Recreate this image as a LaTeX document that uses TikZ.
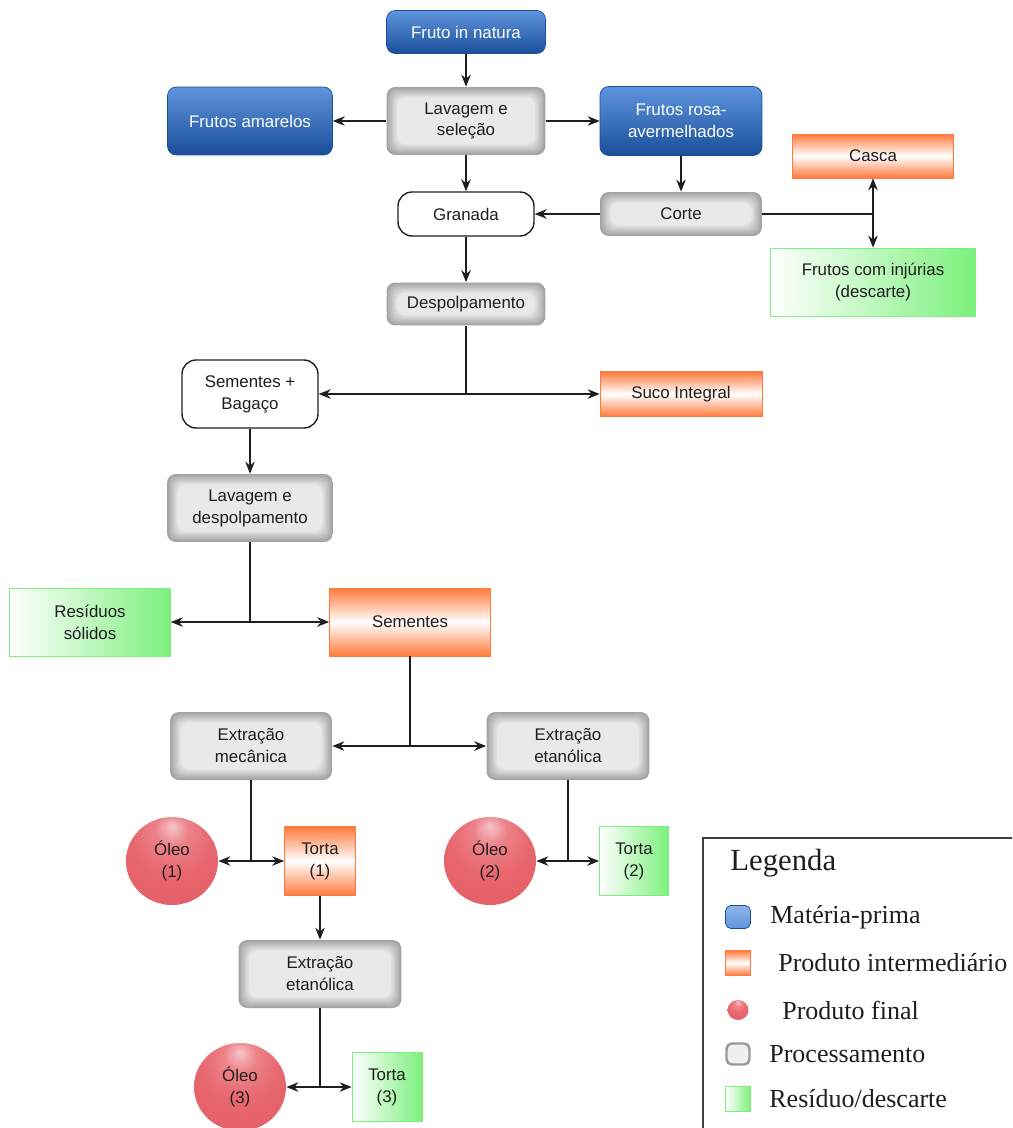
\documentclass[tikz,border=0pt]{standalone}
\usepackage{fontspec}
\setmainfont{Liberation Sans}
\newfontfamily\legfont{Liberation Serif}
\usepackage{tikz}
\usetikzlibrary{arrows.meta,positioning,shapes.geometric}
\definecolor{fluxblue}{HTML}{5F95DD}
\definecolor{fluxnavy}{HTML}{1A4E9A}
\definecolor{fluxorange}{HTML}{FF7A3C}
\definecolor{fluxgreen}{HTML}{7CF07C}
\definecolor{oleolight}{HTML}{F6C4C8}
\definecolor{oleomid}{HTML}{E8666E}
\definecolor{oleodark}{HTML}{D24452}
\definecolor{fluxdark}{HTML}{1E1E1E}
\pgfdeclareradialshading{oleoball}{\pgfpoint{0bp}{20bp}}{color(0bp)=(oleolight); color(9bp)=(oleomid!70!oleolight); color(22bp)=(oleomid); color(50bp)=(oleomid!70!oleodark); color(70bp)=(oleodark)}
\tikzset{
  box/.style={align=center,inner sep=2pt,font=\fontsize{9.6}{12.5}\selectfont,minimum width=3.18cm,minimum height=1.36cm,text=fluxdark},
  raw/.style={box,rounded corners=5pt,top color=fluxblue,bottom color=fluxnavy,draw=fluxnavy,text=white},
  proc/.style={box,rounded corners=5pt,path picture={
      \foreach \k [evaluate=\k as \gv using 36-3.4*\k] in {0,...,8}
        \fill[black!\gv,rounded corners=5pt] ([shift={(\k*0.75pt,\k*0.75pt)}]path picture bounding box.south west)
          rectangle ([shift={(-\k*0.75pt,-\k*0.75pt)}]path picture bounding box.north east);}},
  inter/.style={box,top color=fluxorange,bottom color=fluxorange,middle color=white,draw=fluxorange},
  resid/.style={box,left color=white,right color=fluxgreen,draw=fluxgreen},
  plain/.style={box,rounded corners=8pt,draw=fluxdark,fill=white,thick},
  final/.style={box,ellipse,inner sep=0pt,minimum width=1.84cm,minimum height=1.76cm,shading=oleoball},
  ar/.style={-{Stealth[length=2.4mm,width=1.9mm]},draw=fluxdark,line width=0.9pt},
  ln/.style={draw=fluxdark,line width=0.9pt},
  legtxt/.style={anchor=west,inner sep=0pt,font=\legfont\fontsize{14.8}{16}\selectfont,text=fluxdark},
}

\begin{document}
\begin{tikzpicture}[x=0.02cm,y=-0.02cm]
  \useasboundingbox (0,0) rectangle (1012,1128);
  \clip (0,0) rectangle (1012,1128);
  % selection
  \node[raw,minimum height=0.86cm] (fruto) at (466,32) {Fruto in natura};
  \node[proc] (lav) at (466,121) {Lavagem e\\seleção};
  \node[raw,minimum width=3.3cm] (amar) at (250,121) {Frutos amarelos};
  \node[raw,minimum width=3.24cm,minimum height=1.38cm] (rosa) at (681,121) {Frutos rosa-\\avermelhados};
  \node[plain,minimum width=2.72cm,minimum height=0.88cm] (gran) at (466,214) {Granada};
  \node[proc,minimum width=3.24cm,minimum height=0.88cm] (corte) at (681,214) {Corte};
  \node[inter,minimum width=3.22cm,minimum height=0.88cm] (casca) at (873,156) {Casca};
  \node[resid,minimum width=4.1cm] (inj) at (873,282) {Frutos com injúrias\\(descarte)};
  \node[proc,minimum height=0.86cm] (desp) at (466,304) {Despolpamento};
  \draw[ar] (fruto) -- (lav);
  \draw[ar] (lav) -- (amar);
  \draw[ar] (lav) -- (rosa);
  \draw[ar] (lav) -- (gran);
  \draw[ar] (rosa) -- (corte);
  \draw[ar] (corte) -- (gran);
  \coordinate (jcasca) at (casca.south |- corte.east);
  \draw[ln] (corte.east) -- (jcasca);
  \draw[ar] (jcasca) -- (casca);
  \draw[ar] (jcasca) -- (inj);
  \draw[ar] (gran) -- (desp);
  % juice and seeds
  \node[plain,minimum width=2.72cm] (semb) at (250,394) {Sementes +\\Bagaço};
  \node[inter,minimum width=3.24cm,minimum height=0.9cm] (suco) at (681,394) {Suco Integral};
  \node[proc,minimum width=3.32cm] (lavdesp) at (250,508) {Lavagem e\\despolpamento};
  \node[resid,minimum width=3.22cm] (res) at (90,622) {Resíduos\\sólidos};
  \node[inter,minimum width=3.22cm] (sem) at (410,622) {Sementes};
  \draw[ar] (desp.south) |- (semb.east);
  \draw[ar] (desp.south) |- (suco.west);
  \draw[ar] (semb) -- (lavdesp);
  \draw[ar] (lavdesp.south) |- (res.east);
  \draw[ar] (lavdesp.south) |- (sem.west);
  % extraction
  \node[proc,minimum width=3.24cm] (extmec) at (251,746) {Extração\\mecânica};
  \node[proc,minimum width=3.26cm] (extet) at (568,746) {Extração\\etanólica};
  \node[final] (oleoa) at (172,861) {Óleo\\(1)};
  \node[inter,minimum width=1.42cm,minimum height=1.38cm] (tortaa) at (320,861) {Torta\\(1)};
  \node[final] (oleob) at (490,861) {Óleo\\(2)};
  \node[resid,minimum width=1.38cm,minimum height=1.38cm] (tortab) at (634,861) {Torta\\(2)};
  \node[proc,minimum width=3.26cm] (extetb) at (320,974) {Extração\\etanólica};
  \node[final] (oleoc) at (240,1087) {Óleo\\(3)};
  \node[resid,minimum width=1.4cm,minimum height=1.38cm] (tortac) at (387,1087) {Torta\\(3)};
  \draw[ar] (sem.south) |- (extmec.east);
  \draw[ar] (sem.south) |- (extet.west);
  \draw[ar] (extmec.south) |- (oleoa.east);
  \draw[ar] (extmec.south) |- (tortaa.west);
  \draw[ar] (extet.south) |- (oleob.east);
  \draw[ar] (extet.south) |- (tortab.west);
  \draw[ar] (tortaa) -- (extetb);
  \draw[ar] (extetb.south) |- (oleoc.east);
  \draw[ar] (extetb.south) |- (tortac.west);
  % legend
  \draw[fluxdark!85,line width=1pt] (703,838) rectangle (1040,1160);
  \node[legtxt,font=\legfont\fontsize{17.5}{19}\selectfont] (legtit) at (730,863) {Legenda};
  \node[raw,minimum width=0.5cm,minimum height=0.46cm,inner sep=0pt,rounded corners=3pt,top color=fluxblue!70!white,bottom color=fluxblue] (legraw) at (738,917) {};
  \node[inter,minimum width=0.5cm,minimum height=0.5cm,inner sep=0pt] (leginter) at (738,963) {};
  \node[final,minimum width=0.42cm,minimum height=0.4cm] (legfinal) at (738,1010) {};
  \node[box,minimum width=0.46cm,minimum height=0.42cm,inner sep=0pt,rounded corners=3pt,fill=black!6,draw=black!40,line width=1.4pt] (legproc) at (738,1054) {};
  \node[resid,minimum width=0.5cm,minimum height=0.5cm,inner sep=0pt] (legresid) at (738,1099) {};
  \node[legtxt] (lraw) at (770,917) {Matéria-prima};
  \node[legtxt] (linter) at (778,963) {Produto intermediário};
  \node[legtxt] (lfinal) at (782,1010) {Produto final};
  \node[legtxt] (lproc) at (769,1054) {Processamento};
  \node[legtxt] (lresid) at (769,1099) {Resíduo/descarte};
\end{tikzpicture}
\end{document}
